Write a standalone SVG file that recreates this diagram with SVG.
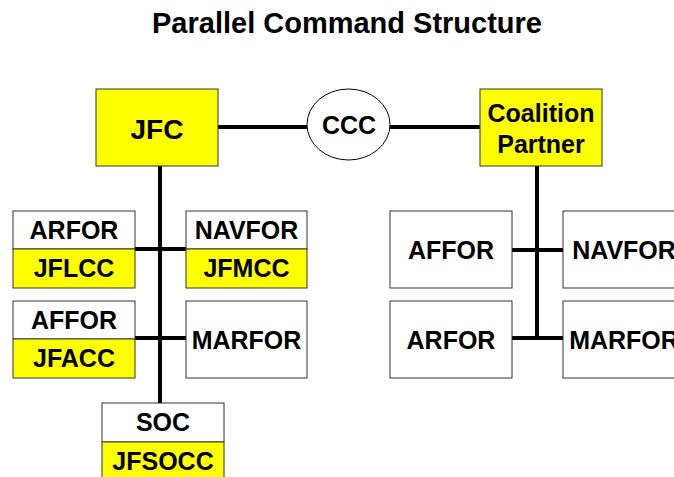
<svg xmlns="http://www.w3.org/2000/svg" width="674" height="477" viewBox="0 0 674 477">
<style>
.bx{stroke:#333;stroke-width:1}
.w{fill:#fff}
.y{fill:#ffff00}
.t{font-family:"Liberation Sans",Arial,sans-serif;font-weight:bold;font-size:25px;fill:#000;text-anchor:middle}
.c{stroke:#000;stroke-width:4;fill:none}
</style>
<rect width="674" height="477" fill="#fff"/>
<text x="347" y="33" class="t" style="font-size:29px">Parallel Command Structure</text>
<g id="connectors">
<line class="c" x1="218" y1="127" x2="307" y2="127"/>
<line class="c" x1="390" y1="127" x2="480" y2="127"/>
<line class="c" x1="160" y1="166" x2="160" y2="403"/>
<line class="c" x1="135" y1="249" x2="186" y2="249"/>
<line class="c" x1="135" y1="338" x2="186" y2="338"/>
<line class="c" x1="537" y1="166" x2="537" y2="340"/>
<line class="c" x1="512" y1="250" x2="563" y2="250"/>
<line class="c" x1="512" y1="338" x2="563" y2="338"/>
</g>
<g id="jfc">
<rect class="bx y" x="96" y="89" width="122" height="77"/>
<text class="t" x="157" y="139" style="font-size:28px">JFC</text>
</g>
<g id="ccc">
<ellipse cx="348.5" cy="124.5" rx="41.5" ry="35.5" fill="#fff" stroke="#000" stroke-width="1"/>
<text class="t" x="349" y="134">CCC</text>
</g>
<g id="coalition">
<rect class="bx y" x="480" y="89" width="122" height="77"/>
<text class="t" x="541" y="122">Coalition</text>
<text class="t" x="541" y="153">Partner</text>
</g>
<g id="arfor-jflcc">
<rect class="bx w" x="13" y="211" width="122" height="38"/>
<rect class="bx y" x="13" y="249" width="122" height="39"/>
<text class="t" x="74" y="239">ARFOR</text>
<text class="t" x="74" y="277">JFLCC</text>
</g>
<g id="navfor-jfmcc">
<rect class="bx w" x="186" y="211" width="121" height="38"/>
<rect class="bx y" x="186" y="249" width="121" height="39"/>
<text class="t" x="246.5" y="239">NAVFOR</text>
<text class="t" x="246.5" y="277">JFMCC</text>
</g>
<g id="affor-jfacc">
<rect class="bx w" x="13" y="301" width="122" height="38"/>
<rect class="bx y" x="13" y="339" width="122" height="39"/>
<text class="t" x="74" y="329">AFFOR</text>
<text class="t" x="74" y="367">JFACC</text>
</g>
<g id="marfor-left">
<rect class="bx w" x="186" y="301" width="121" height="77"/>
<text class="t" x="246.5" y="349">MARFOR</text>
</g>
<g id="soc-jfsocc">
<rect class="bx w" x="102" y="403" width="122" height="39"/>
<rect class="bx y" x="102" y="442" width="122" height="39"/>
<text class="t" x="163" y="431">SOC</text>
<text class="t" x="163" y="470">JFSOCC</text>
</g>
<g id="affor-right">
<rect class="bx w" x="390" y="211" width="122" height="77"/>
<text class="t" x="451" y="259">AFFOR</text>
</g>
<g id="navfor-right">
<rect class="bx w" x="563" y="211" width="122" height="77"/>
<text class="t" x="624" y="259">NAVFOR</text>
</g>
<g id="arfor-right">
<rect class="bx w" x="390" y="301" width="122" height="77"/>
<text class="t" x="451" y="349">ARFOR</text>
</g>
<g id="marfor-right">
<rect class="bx w" x="563" y="301" width="122" height="77"/>
<text class="t" x="624" y="349">MARFOR</text>
</g>
</svg>
